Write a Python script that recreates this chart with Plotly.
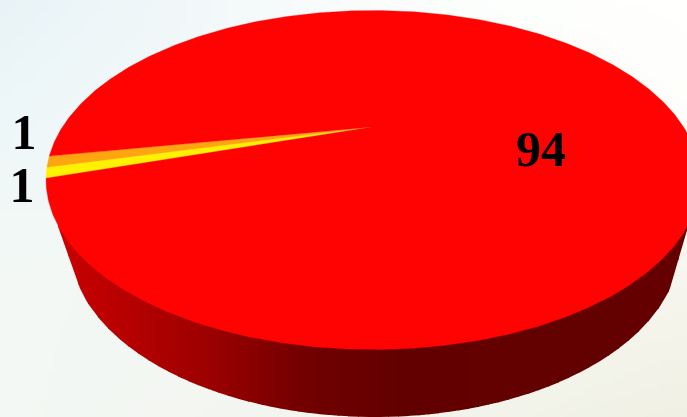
import numpy as np
import plotly.graph_objects as go

# data
slice_labels = ["Yellow", "Orange", "Red"]
slice_values = [1, 1, 94]
slice_colors = ["#FFF200", "#FFA50F", "#FF0303"]
text_values = ["1", "1", "94"]

W, H = 687, 417
TOP = dict(cx=373, cy=180, rx=327, ry=169.5)
BOT = dict(cx=375, cy=245, rx=305, ry=172)
APEX = (372, 127)
START_DEG = 180.6
RIM_START_DEG, RIM_END_DEG = 165, 15
LABEL_XY = [(22, 189), (24, 136), (541, 153)]


def pt(e, t):
    return e["cx"] + e["rx"] * np.cos(t), e["cy"] + e["ry"] * np.sin(t)


def side_color(x):
    xs = [50, 100, 200, 300, 400, 690]
    r = [205, 190, 160, 115, 98, 100]
    return f"rgb({np.interp(x, xs, r):.0f},0,0)"


fig = go.Figure()

# background wash as one image
bg_x = [0, 170, 343, 515, 687]
bg_y = [0, 139, 278, 417]
bg = np.array([
    [[232, 243, 247], [240, 247, 249], [250, 252, 252], [253, 255, 253], [255, 255, 254]],
    [[238, 247, 248], [243, 248, 248], [248, 250, 248], [251, 252, 249], [253, 253, 250]],
    [[243, 248, 245], [243, 247, 244], [244, 246, 242], [245, 246, 240], [246, 246, 238]],
    [[243, 248, 244], [243, 246, 241], [243, 245, 238], [242, 243, 233], [240, 240, 228]],
], dtype=float)
step = 6
gx = np.arange(step / 2, W + step, step)
gy = np.arange(step / 2, H + step, step)
img = np.zeros((len(gy), len(gx), 3), dtype=np.uint8)
for k in range(3):
    by_row = np.array([np.interp(gx, bg_x, bg[m, :, k]) for m in range(len(bg_y))])
    for i in range(len(gx)):
        img[:, i, k] = np.interp(gy, bg_y, by_row[:, i]).round().astype(np.uint8)
fig.add_trace(go.Image(z=img, x0=step / 2, y0=step / 2, dx=step, dy=step, hoverinfo="skip"))

# side wall: vertical shading bands under the outer rim
t_rim = np.radians(np.linspace(RIM_START_DEG, RIM_END_DEG, 301))
rx_b, ry_b = pt(BOT, t_rim)
tl_x, tl_y = pt(TOP, np.radians(RIM_START_DEG))
tr_x, tr_y = pt(TOP, np.radians(RIM_END_DEG))
rim_x = np.concatenate([[tl_x], rx_b, [tr_x]])
rim_y = np.concatenate([[tl_y], ry_b, [tr_y]])
band_edges = np.arange(np.ceil(rim_x[0]), rim_x[-1] + 10, 10)
for x0, x1 in zip(band_edges[:-1], band_edges[1:]):
    xs = np.linspace(x0, min(x1 + 1, rim_x[-1]), 7)
    ys = np.interp(xs, rim_x, rim_y)
    c = side_color((x0 + x1) / 2)
    fig.add_trace(go.Scatter(x=[x0, *xs, xs[-1], x0], y=[TOP["cy"], *ys, TOP["cy"], TOP["cy"]],
                             mode="lines", fill="toself", fillcolor=c,
                             line=dict(color=c, width=0),
                             hoverinfo="skip", showlegend=False))

# top face, slices from the values (clockwise on screen from the left edge)
total = sum(slice_values)
angle = START_DEG
for name, v, col in zip(slice_labels, slice_values, slice_colors):
    sweep = 360 * v / total
    t = np.radians(np.linspace(angle, angle + sweep, max(3, int(sweep * 2))))
    ex, ey = pt(TOP, t)
    fig.add_trace(go.Scatter(x=[APEX[0], *ex, APEX[0]], y=[APEX[1], *ey, APEX[1]], mode="lines",
                             fill="toself", fillcolor=col, line=dict(color=col, width=0.3),
                             name=name, showlegend=False))
    angle += sweep

# value labels
fig.add_trace(go.Scatter(x=[p[0] for p in LABEL_XY], y=[p[1] for p in LABEL_XY], mode="text",
                         text=text_values,
                         textfont=dict(family="Liberation Serif", size=50, color="#000000",
                                       weight="bold"),
                         textposition="middle center", hoverinfo="skip", showlegend=False))

fig.update_layout(width=W, height=H, margin=dict(l=0, r=0, t=0, b=0), autosize=False,
                  paper_bgcolor="#F3F6F4", plot_bgcolor="rgba(0,0,0,0)", showlegend=False,
                  xaxis=dict(range=[0, W], visible=False, fixedrange=True),
                  yaxis=dict(range=[H, 0], visible=False, fixedrange=True, autorange=False))
fig.write_html("out.html", config={"displayModeBar": False},
               post_script="document.body.style.margin='0';document.documentElement.style.overflow='hidden';")
